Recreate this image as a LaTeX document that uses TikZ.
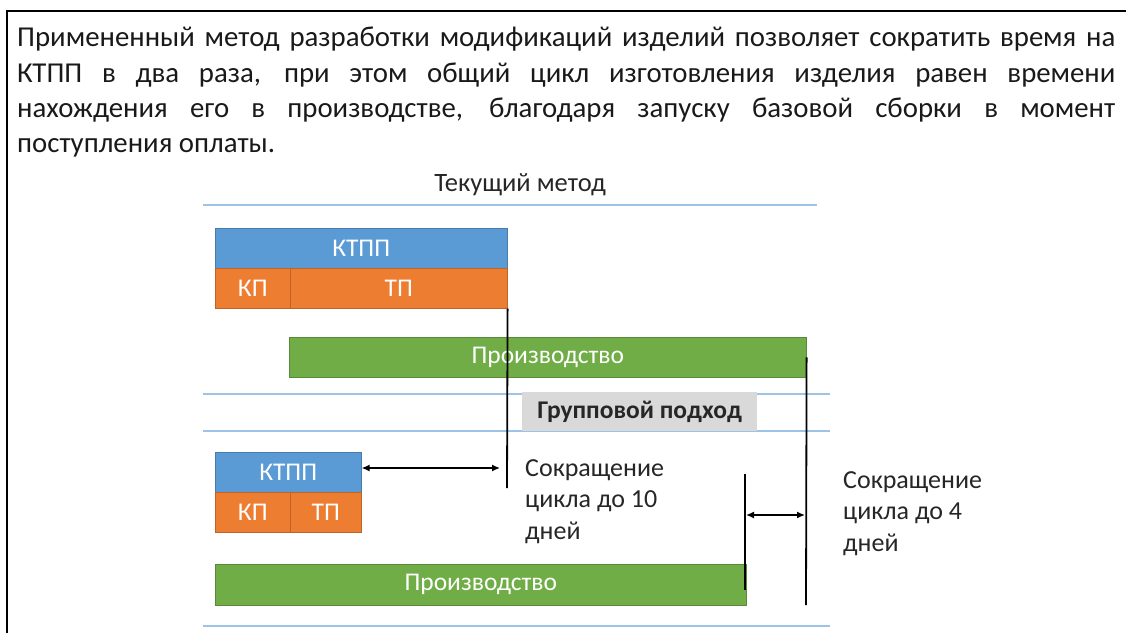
\documentclass[tikz,border=0pt]{standalone}
\usepackage{fontspec}
\setmainfont{Carlito}
\definecolor{ktpp}{HTML}{5B9BD5}
\definecolor{kpcol}{HTML}{ED7D31}
\definecolor{prod}{HTML}{70AD47}
\definecolor{guidecol}{HTML}{9DC3E6}
\definecolor{grp}{HTML}{D9D9D9}
\usetikzlibrary{arrows.meta, positioning}
\tikzset{
  bar/.style={anchor=north west, inner sep=0pt, text=white, fill=#1,
    draw=#1!80!black, line width=0.6pt, font=\fontsize{25.5}{30}\selectfont},
  guide/.style={guidecol, line width=1.2pt},
  cut/.style={black, line width=1.8pt},
  span/.style={{Latex[length=8pt,width=7pt]}-{Latex[length=8pt,width=7pt]}, line width=1.4pt},
  note/.style={anchor=north west, align=left, inner sep=0pt, text=black!85,
    font=\fontsize{26}{31.8}\selectfont}
}

\begin{document}
\begin{tikzpicture}[x=1pt, y=-1pt]
  \useasboundingbox (0,0) rectangle (1126,633);
  % frame
  \draw[line width=2pt] (7,633) -- (7,11) -- (1126,11);
  % intro text
  \node[anchor=north west, text width=1098pt, align=justify, inner sep=0pt,
    text=black!90, font=\fontsize{28.8}{35.3}\selectfont] (intro) at (17,27)
    {Примененный метод разработки модификаций изделий позволяет сократить время на\linebreak
     КТПП в два раза, при этом общий цикл изготовления изделия равен времени\linebreak
     нахождения его в производстве, благодаря запуску базовой сборки в момент\linebreak
     поступления оплаты.};
  \node[font=\fontsize{26.5}{30}\selectfont, text=black!85] (title) at (520,185) {Текущий метод};
  % guide rules
  \foreach \y/\xe in {205/817, 394/830, 431/830, 626/830}
    \draw[guide] (203,\y) -- (\xe,\y);

  % current method
  \node[bar=ktpp, minimum width=292pt, minimum height=40pt] (ktppA) at (215,228) {КТПП};
  \node[bar=kpcol, minimum width=75pt, minimum height=40pt] (kpA) at (215,268) {КП};
  \node[bar=kpcol, minimum width=217pt, minimum height=40pt] (tpA) at (290,268) {ТП};
  \node[bar=prod, minimum width=517pt, minimum height=40pt] (prodA) at (289,337) {Производство};

  % group approach
  \node[anchor=north west, fill=grp, inner sep=0pt, minimum width=235pt, minimum height=39pt,
    text=black!85, font=\fontsize{25.5}{30}\selectfont\bfseries] (group) at (522,392) {Групповой подход};
  \node[bar=ktpp, minimum width=146pt, minimum height=40pt] (ktppB) at (215,452) {КТПП};
  \node[bar=kpcol, minimum width=75pt, minimum height=40pt] (kpB) at (215,492) {КП};
  \node[bar=kpcol, minimum width=71pt, minimum height=40pt] (tpB) at (290,492) {ТП};
  \node[bar=prod, minimum width=531pt, minimum height=41pt] (prodB) at (215,564) {Производство};

  % cut lines and spans
  \coordinate (cutA) at (507,488);
  \coordinate (cutBtop) at (745,474);
  \coordinate (cutBbot) at (745,590);
  \coordinate (cutC) at (806,605);
  \draw[cut] (tpA.south east) -- (cutA);
  \draw[cut] (cutBtop) -- (cutBbot);
  \draw[cut] (prodA.east) -- (cutC);
  \coordinate (spanAend) at (500,468);
  \coordinate (spanBl) at (746,515);
  \coordinate (spanBr) at (805,515);
  \draw[span] (ktppB.east |- spanAend) -- (spanAend);
  \draw[span] (spanBl) -- (spanBr);

  \node[note] (noteA) at (525,459) {Сокращение\\цикла до 10\\дней};
  \node[note] (noteB) at (843,471) {Сокращение\\цикла до 4\\дней};
\end{tikzpicture}
\end{document}
